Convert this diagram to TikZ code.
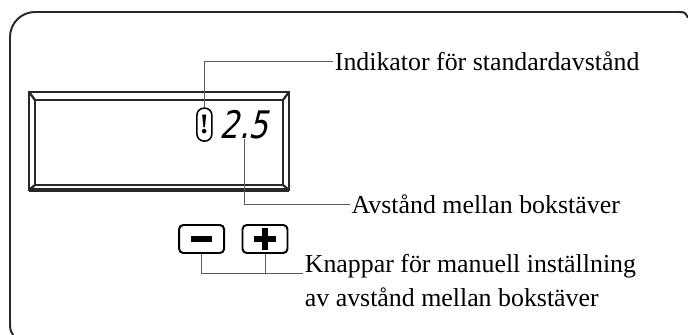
\documentclass[tikz,border=0pt]{standalone}
\usepackage{fontspec}
\setmainfont{Liberation Serif}
\newfontfamily\segfont[FakeSlant=0.25,FakeStretch=0.8]{DejaVu Sans}
\usetikzlibrary{calc}
\definecolor{mgray}{RGB}{40,40,40}
\definecolor{lgray}{RGB}{90,90,90}

\begin{document}
\begin{tikzpicture}[
  frame/.style={draw=mgray,line width=1.4pt},
  lcd/.style={draw=mgray,line width=1.6pt},
  btn/.style={draw=black,line width=1.4pt,rounded corners=3pt,minimum width=1.125cm,
              minimum height=0.7cm,inner sep=0pt},
  lead/.style={draw=lgray,line width=0.7pt},
  lbl/.style={font=\fontsize{18.4}{24.2}\selectfont,inner sep=1pt,anchor=west}
]
\useasboundingbox (0,0) rectangle (17.2,8.375);
% outer frame
\draw[frame] (0.33,0) .. controls (0.25,0.12) .. (0.25,0.45) -- (0.25,7.45)
  arc[start angle=180,end angle=90,radius=0.625] -- (16.95,8.075)
  .. controls (17.12,8.075) .. (17.2,7.93);
% display
\draw[lcd] (0.725,3.625) rectangle (7.225,6.075);
\draw[lcd] (0.875,3.75) rectangle (7.075,5.875);
\draw[lcd] (0.725,6.075) -- (0.875,5.875) (7.225,6.075) -- (7.075,5.875)
  (0.725,3.625) -- (0.875,3.75) (7.225,3.625) -- (7.075,3.75);
\draw[mgray,line width=2.6pt] (0.725,3.625) -- (7.225,3.625);
\node[draw,line width=1.1pt,rounded corners=0.18cm,minimum width=0.375cm,minimum height=0.825cm,
      inner sep=0pt,font=\bfseries\fontsize{20}{20}\selectfont] (ind) at (5.11,5.26) {!};
\node[font=\segfont\fontsize{27}{27}\selectfont,inner sep=0pt] (val) at (6.1,5.26) {2.5};
% buttons
\node[btn] (minus) at (5.04,2.4) {};
\node[btn] (plus) at (6.625,2.4) {};
\draw[line width=0.13cm] ($(minus.center)+(-0.27,0)$) -- ++(0.54,0);
\draw[line width=0.13cm] ($(plus.center)+(-0.27,0)$) -- ++(0.54,0)
  ($(plus.center)+(0,-0.27)$) -- ++(0,0.54);
% labels
\node[lbl] (indt) at (8.33,6.85) {Indikator för standardavstånd};
\node[lbl] (avt) at (8.75,3.275) {Avstånd mellan bokstäver};
\node[lbl,align=left,anchor=base west] (knt) at (7.58,0.7)
  {Knappar för manuell inställning\\av avstånd mellan bokstäver};
\coordinate (kj) at ($(knt.base west)+(0,0.83)$);
\draw[lead] (ind.north) |- (indt.west);
\draw[lead] (val.south) |- (avt.west);
\draw[lead] (minus.south) |- (kj);
\draw[lead] (plus.south) -- (plus.south |- kj);
\end{tikzpicture}
\end{document}
